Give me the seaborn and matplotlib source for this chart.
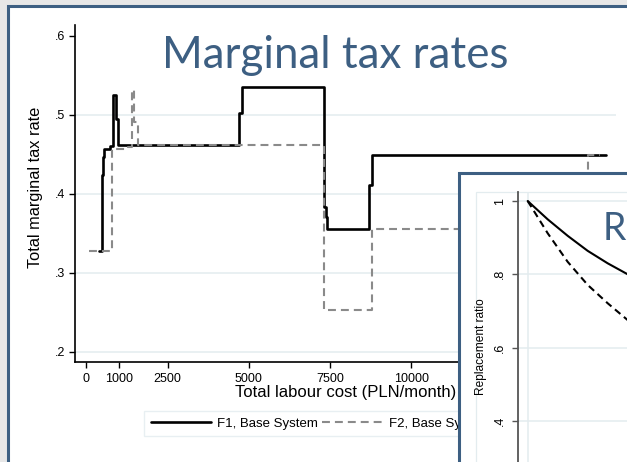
import numpy as np
import pandas as pd
import seaborn as sns
import matplotlib
matplotlib.use("Agg")
import matplotlib.pyplot as plt
from matplotlib.patches import Rectangle

# ---------------- data ----------------
f1_cost = [400, 470, 510, 540, 730, 810, 910, 975, 4710, 4790, 7320, 7370, 7420, 8700, 8790, 16000]
f1_rate = [0.328, 0.424, 0.447, 0.457, 0.461, 0.525, 0.495, 0.462, 0.503, 0.535, 0.384, 0.371, 0.356, 0.411, 0.449, 0.449]

f2_cost = [80, 790, 1290, 1395, 1465, 1600, 7300, 8780, 15450, 15820]
f2_rate = [0.328, 0.457, 0.460, 0.532, 0.491, 0.462, 0.253, 0.356, 0.449, 0.449]

series_names = ["F1, Base System", "F2, Base System"]

xtick_vals = [0, 1000, 2500, 5000, 7500, 10000]
xtick_labels = ["0", "1000", "2500", "5000", "7500", "10000"]
ytick_vals = [0.2, 0.3, 0.4, 0.5, 0.6]
ytick_labels = [".2", ".3", ".4", ".5", ".6"]

rr_period = [0, 1, 2, 3, 4, 5]
rr_solid = [1.0, 0.950, 0.905, 0.864, 0.830, 0.800]
rr_dashed = [1.0, 0.912, 0.834, 0.771, 0.721, 0.675]
rr_ytick_vals = [0.4, 0.6, 0.8, 1.0]
rr_ytick_labels = [".4", ".6", ".8", "1"]

# ---------------- layout helpers ----------------
W, H, DPI = 627, 462, 100
def R(l, t, r, b):
    return [l / W, 1 - b / H, (r - l) / W, (b - t) / H]

BLUE = "#3d5f82"
PALE = "#e3ecef"

sns.set_theme(style="white")
plt.rcParams["font.family"] = ["Liberation Sans", "DejaVu Sans"]

fig = plt.figure(figsize=(W / DPI, H / DPI), dpi=DPI)
fig.patch.set_facecolor("#e7e7e7")

# slide frame
fig.add_artist(Rectangle((7.5 / W, 1 - 700 / H), (900 - 7.5) / W, (700 - 5.5) / H,
                         transform=fig.transFigure, facecolor="white",
                         edgecolor=BLUE, lw=2.2, zorder=-1))

# ---------------- main chart ----------------
ax = fig.add_axes(R(75, 25, 616, 362))
ax.set_zorder(0)
ax.set_facecolor("white")

df1 = pd.DataFrame({"cost": f1_cost, "rate": f1_rate})
df2 = pd.DataFrame({"cost": f2_cost, "rate": f2_rate})
sns.lineplot(data=df1, x="cost", y="rate", ax=ax, color="black", linewidth=1.9,
             drawstyle="steps-post", estimator=None, label=series_names[0], zorder=3)
sns.lineplot(data=df2, x="cost", y="rate", ax=ax, color="#8a8a8a", linewidth=1.5,
             linestyle=(0, (3.8, 2.4)), drawstyle="steps-post", estimator=None,
             label=series_names[1], zorder=4)

ax.set_xlim(-351, 16305)
ax.set_ylim(0.1873, 0.6139)
ax.set_xticks(xtick_vals)
ax.set_xticklabels(xtick_labels)
ax.set_yticks(ytick_vals)
ax.set_yticklabels(ytick_labels)
for v in ytick_vals[:-1]:
    ax.axhline(v, color=PALE, lw=1.1, zorder=0)

for s in ["top", "right"]:
    ax.spines[s].set_visible(False)
for s in ["left", "bottom"]:
    ax.spines[s].set_color("black")
    ax.spines[s].set_linewidth(1.2)

ax.tick_params(axis="both", which="major", bottom=True, left=True, direction="out",
               length=4.3, width=1.0, color="black", labelsize=9, labelcolor="black")
ax.tick_params(axis="y", pad=3.0)
ax.tick_params(axis="x", pad=3.5)

ax.set_xlabel("Total labour cost (PLN/month)", fontsize=12, color="black")
ax.xaxis.set_label_coords(0.5, (362 - 392) / 337)
ax.xaxis.label.set_verticalalignment("center")
ax.set_ylabel("Total marginal tax rate", fontsize=11.8, color="black")
ax.yaxis.set_label_coords((36 - 75) / 541, (362 - 187.5) / 337)
ax.yaxis.label.set_verticalalignment("center")

leg = ax.legend(loc="upper left", bbox_to_anchor=(144 / W, 1 - 411 / H),
                bbox_transform=fig.transFigure, ncol=2, frameon=True, fancybox=False,
                edgecolor=PALE, facecolor="white", fontsize=9.5, handlelength=4.6,
                handletextpad=0.45, columnspacing=0.3, borderpad=0.5, borderaxespad=0)
leg.get_frame().set_linewidth(1.0)
for t in leg.get_texts():
    t.set_color("black")

fig.text(162 / W, 1 - 68 / H, "Marginal tax rates", family=["Lato", "DejaVu Sans"],
         fontsize=31.6, color=BLUE, ha="left", va="baseline", zorder=1)

# ---------------- overlapping second slide ----------------
fig.add_artist(Rectangle((458.5 / W, 1 - 700 / H), (900 - 458.5) / W, (700 - 173) / H,
                         transform=fig.transFigure, facecolor="white",
                         edgecolor=BLUE, lw=2.2, zorder=2))
fig.add_artist(Rectangle((476 / W, 1 - 700 / H), (900 - 476) / W, (700 - 192) / H,
                         transform=fig.transFigure, facecolor="none",
                         edgecolor=PALE, lw=0.9, zorder=2.5))

ax2 = fig.add_axes(R(518, 192, 818, 567.5))
ax2.set_zorder(3)
ax2.patch.set_alpha(0)
df3 = pd.DataFrame({"period": rr_period, "ratio": rr_solid})
df4 = pd.DataFrame({"period": rr_period, "ratio": rr_dashed})
sns.lineplot(data=df3, x="period", y="ratio", ax=ax2, color="black", linewidth=1.5,
             estimator=None, zorder=3)
sns.lineplot(data=df4, x="period", y="ratio", ax=ax2, color="black", linewidth=1.5,
             linestyle=(0, (3.4, 2.2)), estimator=None, zorder=3)
ax2.set_xlim(-0.485, 14.515)
ax2.set_ylim(0, 1.0246)
ax2.set_xticks([])
ax2.set_yticks(rr_ytick_vals)
ax2.set_yticklabels(rr_ytick_labels)
for v in rr_ytick_vals + [0.2]:
    ax2.axhline(v, color=PALE, lw=1.1, zorder=0)
ax2.axvline(rr_period[0], color=PALE, lw=1.1, zorder=0)
for s in ["top", "right", "bottom"]:
    ax2.spines[s].set_visible(False)
ax2.spines["left"].set_color("#555555")
ax2.spines["left"].set_linewidth(1.3)
ax2.tick_params(axis="y", left=True, direction="out", length=4.3, width=1.0,
                color="#555555", labelsize=9, labelcolor="black", labelrotation=90, pad=4.5)
for lbl in ax2.get_yticklabels():
    lbl.set_verticalalignment("center")
ax2.set_xlabel("")
ax2.set_ylabel("Replacement ratio", fontsize=8.6, color="black")
ax2.yaxis.set_label_coords((481 - 518) / 300, (567.5 - 346.5) / 375.5)
ax2.yaxis.label.set_verticalalignment("center")

fig.text(603 / W, 1 - 240 / H, "R", family=["Lato", "DejaVu Sans"], fontsize=27,
         color=BLUE, ha="left", va="baseline", zorder=5)

fig.savefig("out.png", dpi=DPI, facecolor=fig.get_facecolor())
